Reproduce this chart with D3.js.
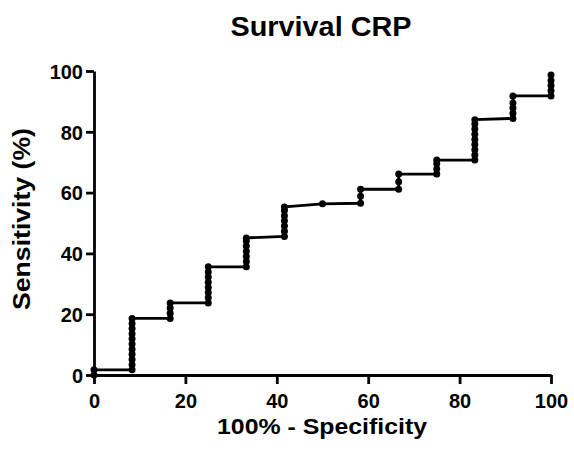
<!DOCTYPE html>
<html>
<head>
<meta charset="utf-8">
<script src="https://cdn.jsdelivr.net/npm/d3@7"></script>
<style>
  body { margin: 0; background: #fff; }
  text { font-family: "Liberation Sans", Arial, sans-serif; font-weight: bold; fill: #000; }
</style>
</head>
<body>
<div class="svg-container"></div>
<script>
var width = 574;
var height = 453;
var margin = {top: 71, right: 23, bottom: 78, left: 94};

// ROC points in plotting order: 100% - specificity (x) and sensitivity (y)
var fpr = [0, 0,
  8.33, 8.33, 8.33, 8.33, 8.33, 8.33, 8.33, 8.33, 8.33, 8.33, 8.33,
  16.67, 16.67, 16.67, 16.67,
  25, 25, 25, 25, 25, 25, 25, 25,
  33.33, 33.33, 33.33, 33.33, 33.33, 33.33, 33.33,
  41.67, 41.67, 41.67, 41.67, 41.67, 41.67, 41.67,
  50,
  58.33, 58.33, 58.33,
  66.67, 66.67, 66.67,
  75, 75, 75, 75,
  83.33, 83.33, 83.33, 83.33, 83.33, 83.33, 83.33, 83.33, 83.33,
  91.67, 91.67, 91.67, 91.67, 91.67,
  100, 100, 100, 100, 100];
var sensitivity = [0, 1.7,
  1.7, 3.4, 5.1, 6.8, 8.5, 10.2, 11.9, 13.6, 15.3, 16.9, 18.6,
  18.6, 20.3, 22.0, 23.7,
  23.7, 25.4, 27.1, 28.8, 30.5, 32.2, 33.9, 35.6,
  35.6, 37.3, 39.0, 40.7, 42.4, 44.1, 45.1,
  45.6, 47.3, 49.0, 50.7, 52.4, 54.1, 55.3,
  56.3,
  56.5, 58.8, 61.1,
  61.1, 63.6, 66.1,
  66.1, 67.8, 69.5, 70.7,
  70.7, 72.4, 74.1, 75.8, 77.5, 79.2, 80.9, 82.6, 84.0,
  84.4, 86.1, 87.8, 89.5, 91.8,
  91.8, 93.5, 95.2, 96.9, 98.7];
var xTicks = [0, 20, 40, 60, 80, 100];
var yTicks = [0, 20, 40, 60, 80, 100];

var points = fpr.map(function(d, i) { return {x: d, y: sensitivity[i]}; });

var svgCanvas = d3.select(".svg-container").append("svg")
                  .attr("width", width)
                  .attr("height", height);

var x = d3.scaleLinear().domain([0, 100]).range([margin.left, width - margin.right]);
var y = d3.scaleLinear().domain([0, 100]).range([height - margin.bottom, margin.top]);

var xAxis = svgCanvas.append("g")
                     .attr("transform", "translate(0," + y(0) + ")")
                     .call(d3.axisBottom(x).tickValues(xTicks).tickSize(9).tickSizeOuter(0).tickPadding(6));
var yAxis = svgCanvas.append("g")
                     .attr("transform", "translate(" + x(0) + ",0)")
                     .call(d3.axisLeft(y).tickValues(yTicks).tickSize(8).tickSizeOuter(0).tickPadding(3));

[xAxis, yAxis].forEach(function(g) {
  g.select(".domain").attr("stroke", "#000").attr("stroke-width", 2.8);
  g.selectAll(".tick line").attr("stroke", "#000").attr("stroke-width", 2.8);
  g.selectAll(".tick text").style("font-size", "20px").attr("fill", "#000");
});
xAxis.selectAll(".tick text").attr("dy", "0.9em");
yAxis.selectAll(".tick text").attr("dy", "0.36em");

var line = d3.line().x(function(d) { return x(d.x); }).y(function(d) { return y(d.y); });

svgCanvas.append("path")
         .datum(points)
         .attr("d", line)
         .attr("fill", "none")
         .attr("stroke", "#000")
         .attr("stroke-width", 2.8)
         .attr("stroke-linejoin", "round");

svgCanvas.selectAll("circle")
         .data(points)
         .enter()
         .append("circle")
         .attr("cx", function(d) { return x(d.x); })
         .attr("cy", function(d) { return y(d.y); })
         .attr("r", 3.5)
         .style("fill", "#000");

svgCanvas.append("text")
         .attr("x", 321)
         .attr("y", 36)
         .attr("text-anchor", "middle")
         .attr("textLength", 181)
         .attr("lengthAdjust", "spacingAndGlyphs")
         .style("font-size", "27px")
         .text("Survival CRP");

svgCanvas.append("text")
         .attr("x", 322)
         .attr("y", 434)
         .attr("text-anchor", "middle")
         .attr("textLength", 210)
         .attr("lengthAdjust", "spacingAndGlyphs")
         .style("font-size", "22px")
         .text("100% - Specificity");

svgCanvas.append("text")
         .attr("transform", "translate(30,219) rotate(-90)")
         .attr("text-anchor", "middle")
         .attr("textLength", 182)
         .attr("lengthAdjust", "spacingAndGlyphs")
         .style("font-size", "23px")
         .text("Sensitivity (%)");
</script>
</body>
</html>
